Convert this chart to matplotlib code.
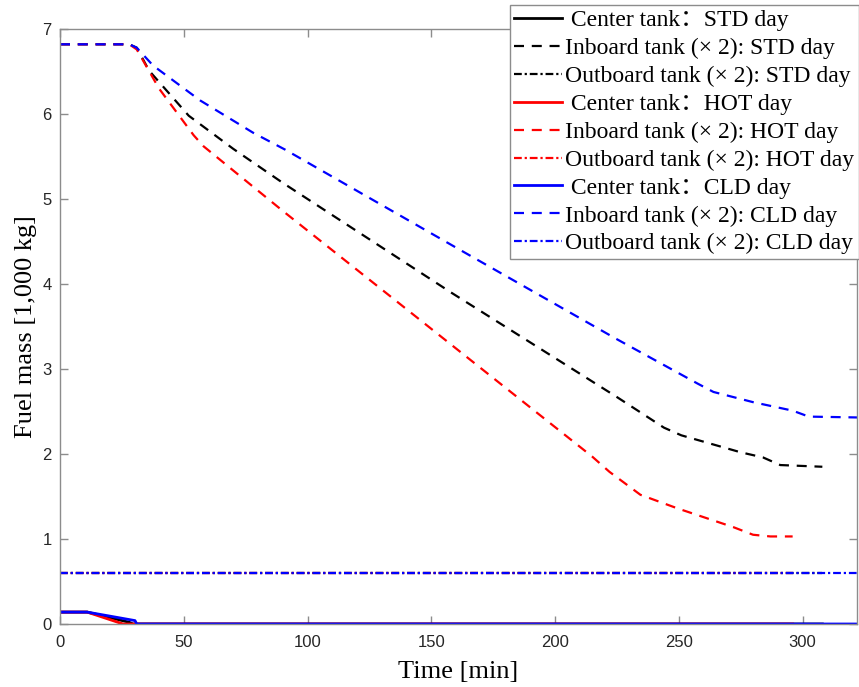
import matplotlib
matplotlib.use("Agg")
import matplotlib.pyplot as plt

# Temps [min] et masse de carburant [1 000 kg]
# Réservoir central
t_center_std = [0, 11, 28, 29.5, 308]
m_center_std = [0.14, 0.14, 0.02, 0.0, 0.0]
t_center_hot = [0, 11, 25.5, 296]
m_center_hot = [0.14, 0.14, 0.0, 0.0]
t_center_cld = [0, 11, 30.3, 31, 322]
m_center_cld = [0.14, 0.14, 0.04, 0.0, 0.0]

# Réservoirs intérieurs (x 2)
t_in_std = [0, 28, 31, 36, 52, 70, 90, 158, 225, 244, 251, 275, 284, 291, 308]
m_in_std = [6.82, 6.82, 6.78, 6.51, 5.98, 5.59, 5.19, 3.90, 2.67, 2.31, 2.22, 2.02, 1.96, 1.87, 1.85]
t_in_hot = [0, 28, 31, 40, 54, 58, 90, 154, 215, 222, 234.5, 249.5, 272, 280, 287, 296]
m_in_hot = [6.82, 6.82, 6.76, 6.30, 5.75, 5.62, 4.86, 3.38, 1.97, 1.79, 1.52, 1.36, 1.14, 1.05, 1.03, 1.03]
t_in_cld = [0, 28, 31, 37.6, 56.6, 78, 91, 160.5, 224.4, 257.5, 264, 280, 296, 302.5, 322]
m_in_cld = [6.82, 6.82, 6.78, 6.57, 6.16, 5.78, 5.58, 4.42, 3.36, 2.83, 2.73, 2.61, 2.51, 2.44, 2.43]

# Réservoirs extérieurs (x 2)
t_out_std = [0, 308]
m_out_std = [0.6, 0.6]
t_out_hot = [0, 296]
m_out_hot = [0.6, 0.6]
t_out_cld = [0, 322]
m_out_cld = [0.6, 0.6]

days = ["STD", "HOT", "CLD"]
colors = ["#000000", "#ff0000", "#0000ff"]

plt.rcParams['font.family'] = ['Liberation Serif', 'Noto Sans CJK SC']

fig = plt.figure(figsize=(8.59, 6.87), dpi=100)
ax = fig.add_axes([60 / 859, 1 - 624 / 687, 797 / 859, 595 / 687])

dash = (0, (4.5, 3.5))
dashdot = (0, (3.5, 1.3, 1, 1.3))
lw = 1.6

series = [
    (t_center_std, m_center_std, t_in_std, m_in_std, t_out_std, m_out_std),
    (t_center_hot, m_center_hot, t_in_hot, m_in_hot, t_out_hot, m_out_hot),
    (t_center_cld, m_center_cld, t_in_cld, m_in_cld, t_out_cld, m_out_cld),
]
for day, col, s in zip(days, colors, series):
    ax.plot(s[0], s[1], color=col, lw=2.0, linestyle='-',
            label=" Center tank\uff1a" + day + " day")
    ax.plot(s[2], s[3], color=col, lw=lw, linestyle=dash,
            label="Inboard tank (\u00d7 2): " + day + " day")
    ax.plot(s[4], s[5], color=col, lw=lw, linestyle=dashdot,
            label="Outboard tank (\u00d7 2): " + day + " day")

ax.set_xlim(0, 322)
ax.set_ylim(0, 7)
ax.set_xticks([0, 50, 100, 150, 200, 250, 300])
ax.set_yticks([0, 1, 2, 3, 4, 5, 6, 7])

for sp in ax.spines.values():
    sp.set_color('#8c8c8c')
    sp.set_linewidth(1.0)
ax.tick_params(direction='in', top=True, right=True, length=6, width=1,
               color='#8c8c8c', labelcolor='#262626')
ax.tick_params(axis='x', pad=8)
ax.tick_params(axis='y', pad=6)
for lab in ax.get_xticklabels() + ax.get_yticklabels():
    lab.set_fontfamily('Liberation Sans')
    lab.set_fontsize(12)

ax.set_xlabel("Time [min]", fontsize=19)
ax.set_ylabel("Fuel mass [1,000 kg]", fontsize=19)
ax.xaxis.set_label_coords(0.5, -0.062)
ax.yaxis.set_label_coords(-0.029, 0.5)

leg = fig.legend(loc='upper right', bbox_to_anchor=(1.0, 1 - 5 / 687),
                 fontsize=17, frameon=True, fancybox=False, framealpha=1,
                 edgecolor='#8c8c8c', borderaxespad=0, borderpad=0.2,
                 labelspacing=0.27, handlelength=2.0, handletextpad=0.15)
leg.get_frame().set_linewidth(1.0)

fig.savefig("out.png", dpi=100)
